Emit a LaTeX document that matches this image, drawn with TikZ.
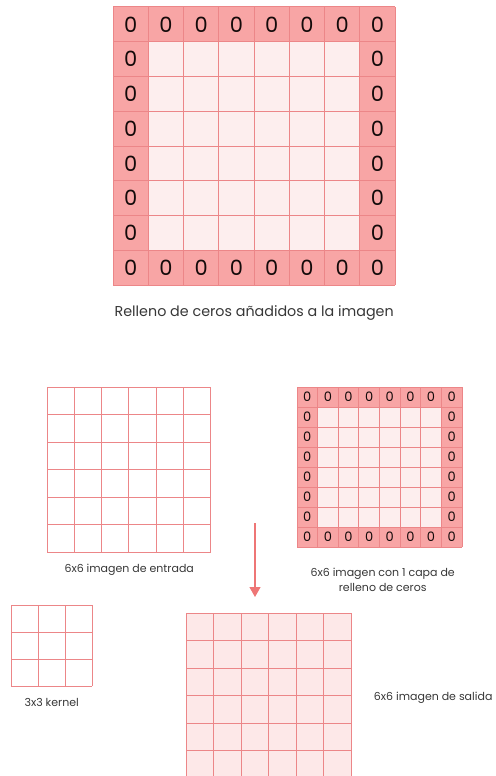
\documentclass[tikz,border=0pt]{standalone}
\usepackage{fontspec}
\setmainfont{Poppins}
\usetikzlibrary{arrows.meta, positioning}

\definecolor{padred}{RGB}{248,165,165}
\definecolor{gridred}{RGB}{236,134,136}
\definecolor{cellpink}{RGB}{253,238,238}
\definecolor{outpink}{RGB}{253,232,232}
\definecolor{arrowred}{RGB}{238,118,118}
\definecolor{captiongray}{RGB}{55,55,55}
\definecolor{zeroblack}{RGB}{20,10,10}

\begin{document}
\begin{tikzpicture}[
    x=1bp, y=-1bp,
    node distance=8bp,
    gridbox/.style={rectangle, anchor=north west, inner sep=0pt, draw=none},
    gridline/.style={draw=gridred, line width=1bp},
    zerobig/.style={font=\fontsize{21bp}{21bp}\selectfont, text=zeroblack, inner sep=0pt},
    zerosmall/.style={font=\fontsize{13bp}{13bp}\selectfont, text=zeroblack, inner sep=0pt},
    caption/.style={font=\fontsize{11bp}{15bp}\selectfont, text=captiongray, align=center},
    bigcaption/.style={font=\fontsize{14.3bp}{16bp}\selectfont, text=captiongray},
    arrow/.style={-{Triangle[length=10bp, width=11bp]}, line width=1.2bp, draw=arrowred, fill=arrowred},
]
\useasboundingbox (0,0) rectangle (496,776);

% ---- top: image with zero padding ----
\node (padtop) [gridbox, fill=padred, minimum width=282bp, minimum height=278bp] at (113,7) {};
\fill[cellpink] (148.25,41.75) rectangle (359.75,250.25);
\foreach \k in {0,...,8} {
    \draw[gridline] ({113+35.25*\k},7) -- ({113+35.25*\k},285);
    \draw[gridline] (113,{7+34.75*\k}) -- (395,{7+34.75*\k});
}
\foreach \k in {0,...,7} {
    \node[zerobig] at ({130.6+35.25*\k},24.4) {0};
    \node[zerobig] at ({130.6+35.25*\k},267.6) {0};
}
\foreach \k in {1,...,6} {
    \node[zerobig] at (130.6,{24.4+34.75*\k}) {0};
    \node[zerobig] at (377.4,{24.4+34.75*\k}) {0};
}
\node (captop) [bigcaption, below=17bp of padtop] {Relleno de ceros añadidos a la imagen};

% ---- input image ----
\node (inimg) [gridbox, fill=white, minimum width=164bp, minimum height=165bp] at (47,387) {};
\foreach \k in {0,...,6} {
    \draw[gridline] ({47+27.33*\k},387) -- ({47+27.33*\k},552);
    \draw[gridline] (47,{387+27.5*\k}) -- (211,{387+27.5*\k});
}
\node (incap) [caption, below=8bp of inimg] {6x6 imagen de entrada};

% ---- padded input image ----
\node (padsmall) [gridbox, fill=padred, minimum width=165bp, minimum height=160bp] at (297,387) {};
\fill[cellpink] (317.625,407) rectangle (441.375,527);
\foreach \k in {0,...,8} {
    \draw[gridline] ({297+20.625*\k},387) -- ({297+20.625*\k},547);
    \draw[gridline] (297,{387+20*\k}) -- (462,{387+20*\k});
}
\foreach \k in {0,...,7} {
    \node[zerosmall] at ({307.3+20.625*\k},397) {0};
    \node[zerosmall] at ({307.3+20.625*\k},537) {0};
}
\foreach \k in {1,...,6} {
    \node[zerosmall] at (307.3,{397+20*\k}) {0};
    \node[zerosmall] at (451.7,{397+20*\k}) {0};
}
\node (padcap) [caption, below=17bp of padsmall, xshift=3bp] {6x6 imagen con 1 capa de\\relleno de ceros};

% ---- kernel ----
\node (kernel) [gridbox, fill=white, minimum width=81bp, minimum height=81bp] at (11,605) {};
\foreach \k in {0,...,3} {
    \draw[gridline] ({11+27*\k},605) -- ({11+27*\k},686);
    \draw[gridline] (11,{605+27*\k}) -- (92,{605+27*\k});
}
\node (kercap) [caption, below=8bp of kernel] {3x3 kernel};

% ---- output image ----
\node (outimg) [gridbox, fill=outpink, minimum width=165bp, minimum height=165bp] at (186,613) {};
\foreach \k in {0,...,6} {
    \draw[gridline] ({186+27.5*\k},613) -- ({186+27.5*\k},778);
    \draw[gridline] (186,{613+27.5*\k}) -- (351,{613+27.5*\k});
}
\node (outcap) [caption, right=19bp of outimg, yshift=-2bp] {6x6 imagen de salida};

% ---- arrow ----
\coordinate (arrowstart) at (255,523);
\draw[arrow] (arrowstart) -- (arrowstart |- outimg.north) [shorten >=16bp];

\end{tikzpicture}
\end{document}
